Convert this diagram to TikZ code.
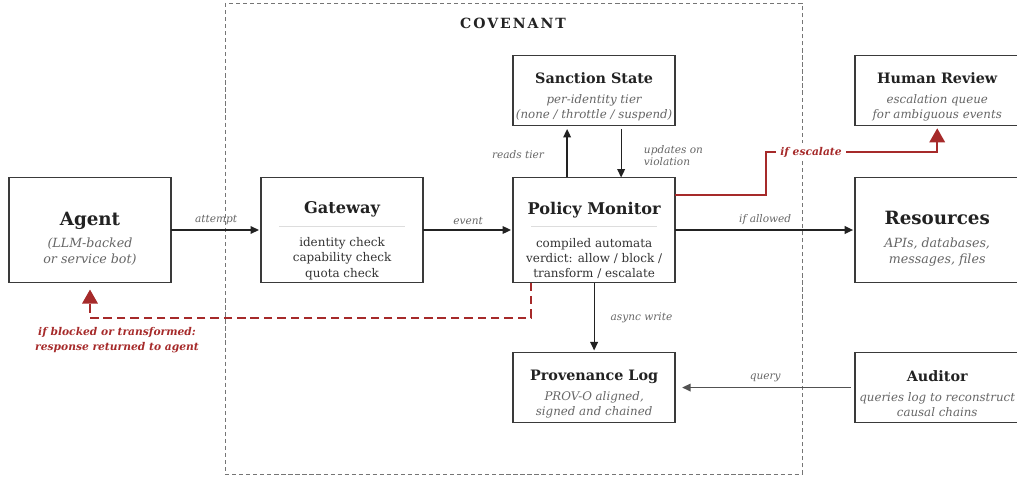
\documentclass[tikz,border=0pt]{standalone}
\usepackage{fontspec}
\setmainfont{DejaVu Serif}
\newfontfamily\spacedfont[LetterSpace=14]{DejaVu Serif}
\usetikzlibrary{arrows.meta, positioning, calc}

\definecolor{boxline}{HTML}{3A3A3A}
\definecolor{ttl}{HTML}{222222}
\definecolor{bodytxt}{HTML}{333333}
\definecolor{subtxt}{HTML}{666666}
\definecolor{sepgray}{HTML}{DDDDDD}
\definecolor{escred}{HTML}{A62A2A}

\newcommand{\bigttl}[1]{{\fontsize{13}{15}\selectfont\bfseries\color{ttl}\rule{0pt}{22pt}#1}}
\newcommand{\midttl}[1]{{\fontsize{11.5}{14}\selectfont\bfseries\color{ttl}\rule{0pt}{24pt}#1}}
\newcommand{\smlttl}[1]{{\fontsize{10.2}{12}\selectfont\bfseries\color{ttl}\rule{0pt}{17pt}#1}}
\newcommand{\sepline}{{\color{sepgray}\rule[3pt]{3.15cm}{0.7pt}}}
\newcommand{\subit}[1]{{\itshape\color{subtxt}#1}}

\begin{document}
\begin{tikzpicture}[
  x=0.025cm, y=-0.025cm,
  box/.style={draw=boxline, line width=1.2pt, fill=white, minimum width=4.05cm,
              align=center, inner sep=2pt, outer sep=0pt, text=bodytxt},
  bigbox/.style={box, minimum height=2.625cm, font=\fontsize{8.5}{11}\selectfont},
  smallbox/.style={box, minimum height=1.75cm, font=\fontsize{8.4}{10.7}\selectfont},
  lbl/.style={font=\fontsize{7.5}{8.6}\selectfont\itshape, text=subtxt},
  redlbl/.style={font=\fontsize{7.6}{10.7}\selectfont\bfseries\itshape, text=escred, align=center},
  arr/.style={-{Triangle[length=6pt,width=5.5pt]}, line width=0.9pt, draw=ttl, shorten >=1.5pt},
  esc/.style={-{Triangle[length=10pt,width=11pt]}, line width=1.4pt, draw=escred, shorten >=2pt},
  frame/.style={draw=subtxt!90, dash pattern=on 3pt off 2pt, line width=0.7pt}]
  \useasboundingbox (0,0) rectangle (1017,479);

  % covenant boundary
  \draw[frame] (225,3) rectangle (802,474);
  \node[font=\spacedfont\bfseries\fontsize{10}{12}\selectfont, text=ttl] (cov) at (513,23) {COVENANT};

  % main row
  \node[bigbox, font=\fontsize{9}{11.4}\selectfont] (agent) at (90,230)
    {\bigttl{Agent}\\[4.5pt]\subit{(LLM-backed}\\\subit{or service bot)}};
  \node[bigbox, right=2.25cm of agent] (gw)
    {\midttl{Gateway}\\[1pt]\sepline\\[0pt]identity check\\capability check\\quota check};
  \node[bigbox, right=2.25cm of gw] (pm)
    {\midttl{Policy Monitor}\\[1pt]\sepline\\[0pt]compiled automata\\verdict: allow / block /\\transform / escalate};
  \node[bigbox, right=4.5cm of pm, minimum width=4.1cm, font=\fontsize{9}{11.4}\selectfont] (res)
    {\bigttl{Resources}\\[4.5pt]\subit{APIs, databases,}\\\subit{messages, files}};

  % above and below
  \node[smallbox, above=1.3cm of pm] (sanct)
    {\smlttl{Sanction State}\\[3.5pt]\subit{per-identity tier}\\\subit{(none / throttle / suspend)}};
  \node[smallbox, above=1.3cm of res, minimum width=4.1cm] (human)
    {\smlttl{Human Review}\\[3.5pt]\subit{escalation queue}\\\subit{for ambiguous events}};
  \node[smallbox, below=1.75cm of pm] (prov)
    {\smlttl{Provenance Log}\\[3.5pt]\subit{PROV-O aligned,}\\\subit{signed and chained}};
  \node[smallbox, below=1.75cm of res, minimum width=4.1cm] (aud)
    {\smlttl{Auditor}\\[3.5pt]\subit{queries log to reconstruct}\\\subit{causal chains}};

  % flows
  \draw[arr] (agent) -- node[lbl, above] (lattempt) {attempt} (gw);
  \draw[arr] (gw) -- node[lbl, above] (levent) {event} (pm);
  \draw[arr] (pm) -- node[lbl, above] (lallowed) {if allowed} (res);
  \draw[arr, shorten >=2.5pt] ([xshift=-0.675cm]pm.north) -- ([xshift=-0.675cm]sanct.south);
  \draw[arr, shorten <=2.5pt, shorten >=0pt] ([xshift=0.675cm]sanct.south) -- ([xshift=0.675cm]pm.north);
  \node[lbl, anchor=east] (lreads) at (549,155) {reads tier};
  \node[lbl, anchor=west, align=left] (lupd) at (639,156) {updates on\\violation};
  \draw[arr] (pm.south) -- node[lbl, right=8pt] (lasync) {async write} (prov.north);
  \draw[arr, draw=subtxt!80!black, shorten >=5pt, shorten <=3pt] (aud.west) -- node[lbl, above] (lquery) {query} (prov.east);

  % escalation and return paths
  \coordinate (bend) at (766,152);
  \draw[esc] ([yshift=0.875cm]pm.east) -| (bend) -| (human.south);
  \node[redlbl, fill=white, inner sep=3pt] (lesc) at (811,152) {if escalate};
  \draw[esc, dash pattern=on 6pt off 3.5pt, shorten >=5pt]
    ([xshift=-1.575cm]pm.south) -- ++(0,-0.875cm) -| (agent.south);
  \node[redlbl] (lret) at (117,340) {if blocked or transformed:\\response returned to agent};
\end{tikzpicture}
\end{document}
